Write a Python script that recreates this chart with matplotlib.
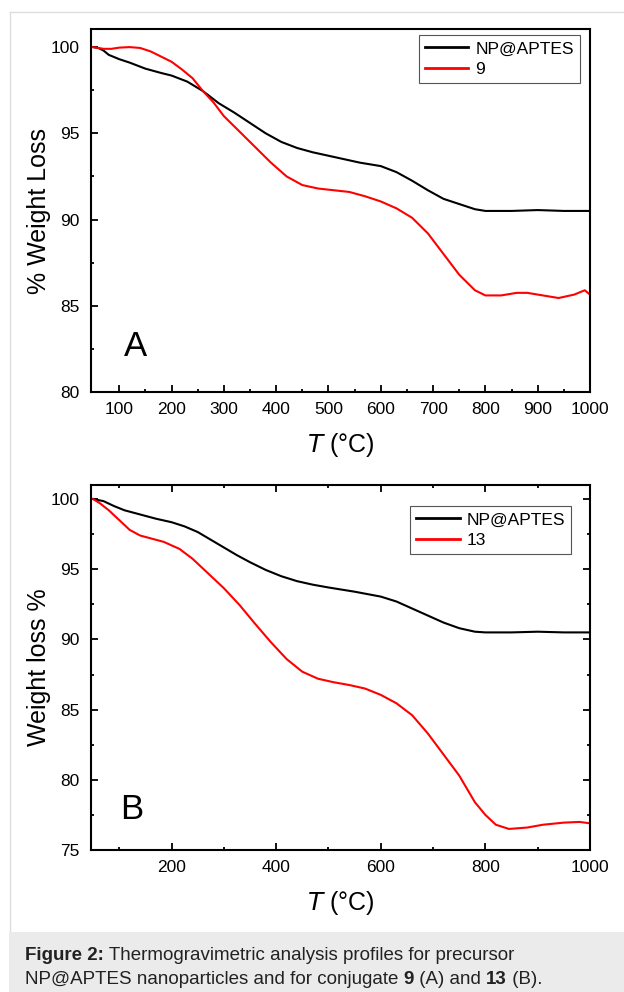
import matplotlib.pyplot as plt
from matplotlib.lines import Line2D
from matplotlib.patches import Rectangle

plt.rcParams['font.family'] = ['Liberation Sans', 'DejaVu Sans']

# panel A: NP@APTES and conjugate 9
t_np_a = [50, 60, 70, 80, 100, 120, 150, 180, 200, 230, 260, 290, 320, 350, 380, 410, 440,
          470, 500, 530, 560, 600, 630, 660, 690, 720, 750, 780, 800, 850, 900, 950, 1000]
w_np_a = [100.0, 99.95, 99.8, 99.55, 99.3, 99.1, 98.75, 98.5, 98.35, 98.0, 97.45, 96.75, 96.2,
          95.6, 95.0, 94.5, 94.15, 93.9, 93.7, 93.5, 93.3, 93.1, 92.75, 92.25, 91.7, 91.2, 90.9,
          90.6, 90.5, 90.5, 90.55, 90.5, 90.5]
t_9 = [50, 70, 85, 100, 120, 140, 160, 180, 200, 220, 240, 260, 280, 300, 330, 360, 390, 420,
       450, 480, 510, 540, 570, 600, 630, 660, 690, 720, 750, 780, 800, 830, 860, 880, 910, 940,
       970, 990, 1000]
w_9 = [100.0, 99.9, 99.9, 99.97, 100.0, 99.95, 99.75, 99.45, 99.15, 98.7, 98.2, 97.45, 96.8,
       96.0, 95.1, 94.2, 93.3, 92.5, 92.0, 91.8, 91.7, 91.6, 91.35, 91.05, 90.65, 90.1, 89.2,
       88.0, 86.8, 85.9, 85.6, 85.6, 85.75, 85.75, 85.6, 85.45, 85.65, 85.9, 85.65]

# panel B: NP@APTES and conjugate 13
t_np_b = [50, 70, 90, 110, 140, 170, 200, 225, 250, 275, 300, 325, 350, 380, 410, 440, 470, 500,
          550, 600, 630, 660, 690, 720, 750, 780, 800, 850, 900, 950, 1000]
w_np_b = [100.0, 99.85, 99.5, 99.2, 98.9, 98.6, 98.35, 98.05, 97.65, 97.1, 96.55, 96.0, 95.5,
          94.95, 94.5, 94.15, 93.9, 93.7, 93.4, 93.05, 92.7, 92.2, 91.7, 91.2, 90.8, 90.55, 90.5,
          90.5, 90.55, 90.5, 90.5]
t_13 = [50, 63, 80, 100, 120, 140, 160, 185, 215, 240, 260, 280, 300, 330, 360, 390, 420, 450,
        480, 510, 540, 570, 600, 630, 660, 690, 720, 750, 780, 800, 820, 845, 880, 910, 950,
        980, 1000]
w_13 = [100.0, 99.7, 99.2, 98.5, 97.8, 97.4, 97.2, 96.95, 96.45, 95.75, 95.05, 94.35, 93.65,
        92.45, 91.1, 89.8, 88.6, 87.7, 87.2, 86.95, 86.75, 86.5, 86.05, 85.45, 84.6, 83.3, 81.8,
        80.3, 78.4, 77.5, 76.8, 76.5, 76.6, 76.8, 76.95, 77.0, 76.9]

# caption pieces (text, bold)
cap_line1 = [('Figure 2:', True), (' Thermogravimetric analysis profiles for precursor', False)]
cap_line2 = [('NP@APTES nanoparticles and for conjugate ', False), ('9', True),
             (' (A) and ', False), ('13', True), (' (B).', False)]

fig = plt.figure(figsize=(6.24, 9.92), dpi=100)
W, H = 624.0, 992.0
L, R = 91, 590


def make_axes(top, bottom):
    return fig.add_axes([L / W, 1 - bottom / H, (R - L) / W, (bottom - top) / H])


def style(ax):
    for s in ax.spines.values():
        s.set_linewidth(1.5)
    ax.tick_params(which='both', direction='in', width=1.3, labelsize=12.5)
    ax.tick_params(which='major', length=5)
    ax.tick_params(which='minor', length=2.5)
    ax.tick_params(axis='y', pad=8)
    ax.tick_params(axis='x', pad=7)


def add_legend(ax, anchor):
    leg = ax.legend(loc='upper right', bbox_to_anchor=anchor, borderaxespad=0,
                    fontsize=12.5, handlelength=2.5, labelspacing=0.3, borderpad=0.35,
                    handletextpad=0.4, fancybox=False, edgecolor='#555555', framealpha=1)
    leg.get_frame().set_linewidth(0.8)
    for ln in leg.get_lines():
        ln.set_linewidth(2)


# panel A
ax1 = make_axes(29, 392)
ax1.plot(t_np_a, w_np_a, color='black', lw=1.5, label='NP@APTES')
ax1.plot(t_9, w_9, color='red', lw=1.5, label='9')
ax1.set_xlim(46, 1000)
ax1.set_ylim(80, 101.05)
ax1.set_xticks(range(100, 1001, 100))
ax1.set_xticks(range(150, 1000, 100), minor=True)
ax1.set_yticks([80, 85, 90, 95, 100])
ax1.set_yticks([82.5, 87.5, 92.5, 97.5], minor=True)
style(ax1)
ax1.tick_params(top=False, right=False)
ax1.set_xlabel('$\\mathit{T}$ (°C)', fontsize=18, labelpad=10)
ax1.set_ylabel('% Weight Loss', fontsize=18, labelpad=0)
ax1.text(0.09, 0.125, 'A', transform=ax1.transAxes, fontsize=25, ha='center', va='center')
add_legend(ax1, (0.98, 0.983))

# panel B
ax2 = make_axes(485, 850)
ax2.plot(t_np_b, w_np_b, color='black', lw=1.5, label='NP@APTES')
ax2.plot(t_13, w_13, color='red', lw=1.5, label='13')
ax2.set_xlim(46, 1000)
ax2.set_ylim(75, 101.0)
ax2.set_xticks(range(200, 1001, 200))
ax2.set_xticks(range(100, 1000, 200), minor=True)
ax2.set_yticks([75, 80, 85, 90, 95, 100])
ax2.set_yticks([77.5, 82.5, 87.5, 92.5, 97.5], minor=True)
style(ax2)
ax2.tick_params(which='both', top=True, right=True)
ax2.set_xlabel('$\\mathit{T}$ (°C)', fontsize=18, labelpad=10)
ax2.set_ylabel('Weight loss %', fontsize=18, labelpad=0)
ax2.text(0.082, 0.112, 'B', transform=ax2.transAxes, fontsize=25, ha='center', va='center')
add_legend(ax2, (0.962, 0.942))

# frame and caption
fig.add_artist(Line2D([9.5 / W, 9.5 / W], [1 - 932 / H, 1 - 12 / H], color='#dddddd', lw=1))
fig.add_artist(Line2D([9.5 / W, 1], [1 - 12 / H, 1 - 12 / H], color='#dddddd', lw=1))

cap = fig.add_axes([0, 0, 1, 1])
cap.set_zorder(10)
cap.axis('off')
cap.set_xlim(0, W)
cap.set_ylim(H, 0)
cap.add_patch(Rectangle((9, 932), W - 9, 60, facecolor='#ebebeb', edgecolor='none'))

renderer = fig.canvas.get_renderer()
fs = 13.5
for pieces, base in [(cap_line1, 960), (cap_line2, 984)]:
    x = 25.0
    for txt, bold in pieces:
        t = cap.text(x, base, txt, fontsize=fs, va='baseline', color='#222222',
                     fontweight='bold' if bold else 'normal')
        x += t.get_window_extent(renderer).width

fig.savefig('out.png', dpi=100)
